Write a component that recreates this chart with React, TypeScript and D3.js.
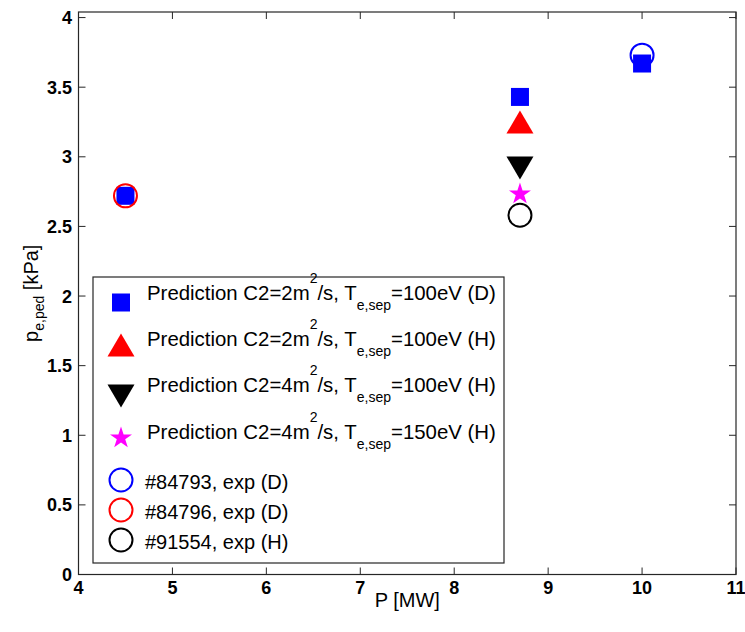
import React from 'react'
import * as d3 from 'd3'

// power [MW] and pedestal pressure [kPa]
const predD_C2_2_T100_P = [4.5, 8.7, 10]
const predD_C2_2_T100_p = [2.72, 3.43, 3.67]
const predH_C2_2_T100_P = [8.7]
const predH_C2_2_T100_p = [3.25]
const predH_C2_4_T100_P = [8.7]
const predH_C2_4_T100_p = [2.92]
const predH_C2_4_T150_P = [8.7]
const predH_C2_4_T150_p = [2.74]
const exp84793_P = [10]
const exp84793_p = [3.73]
const exp84796_P = [4.5]
const exp84796_p = [2.72]
const exp91554_P = [8.7]
const exp91554_p = [2.58]

const xTicks = [4, 5, 6, 7, 8, 9, 10, 11]
const yTicks = [0, 0.5, 1, 1.5, 2, 2.5, 3, 3.5, 4]

const font = 'Liberation Sans, Arial, Helvetica, sans-serif'

const width = 745
const height = 632
const left = 78.5
const right = 736
const top = 12
const bottom = 574.5

const x = d3.scaleLinear().domain([4, 11]).range([left, right])
const y = d3.scaleLinear().domain([0, 4.04]).range([bottom, top])

const star = d3.symbol().type(d3.symbolStar).size(150)

function Square({ cx, cy, s = 18 }: any) {
  return <rect x={cx - s / 2} y={cy - s / 2} width={s} height={s} fill="#0000ff" />
}
function TriUp({ cx, cy, color }: any) {
  const w = 13.5, h = 11.5
  return <path d={`M${cx},${cy - h}L${cx + w},${cy + h}L${cx - w},${cy + h}Z`} fill={color} />
}
function TriDown({ cx, cy }: any) {
  const w = 13.5, h = 11.5
  return <path d={`M${cx - w},${cy - h}L${cx + w},${cy - h}L${cx},${cy + h}Z`} fill="#000" />
}
function Star({ cx, cy }: any) {
  return <path d={star() as string} transform={`translate(${cx},${cy + 1})`} fill="#ff00ff" />
}
function Ring({ cx, cy, color }: any) {
  return <circle cx={cx} cy={cy} r={11.5} fill="none" stroke={color} strokeWidth={2} />
}

function Pred({ c2, t, iso, yb }: any) {
  return (
    <text x={147} y={yb} fontSize={20.4} fontFamily={font} fill="#000">
      {`Prediction C2=${c2}m`}
      <tspan dy={-17} fontSize={14}>2</tspan>
      <tspan dy={17}>/s, T</tspan>
      <tspan dy={10} fontSize={14}>e,sep</tspan>
      <tspan dy={-10}>{`=${t}eV (${iso})`}</tspan>
    </text>
  )
}

export default function App() {
  return (
    <svg width={width} height={height} style={{ display: 'block', position: 'absolute', left: 0, top: 0 }}>
      <rect width={width} height={height} fill="#fff" />

      {/* axes box */}
      <rect x={left} y={top} width={right - left} height={bottom - top} fill="none" stroke="#262626" strokeWidth={1.2} />
      {xTicks.map(t => (
        <g key={'x' + t}>
          <line x1={x(t)} x2={x(t)} y1={bottom} y2={bottom - 7} stroke="#262626" />
          <line x1={x(t)} x2={x(t)} y1={top} y2={top + 7} stroke="#262626" />
          <text x={x(t)} y={594} textAnchor="middle" fontSize={18} fontWeight="bold" fontFamily={font} fill="#000">{t}</text>
        </g>
      ))}
      {yTicks.map(t => (
        <g key={'y' + t}>
          <line x1={left} x2={left + 7} y1={y(t)} y2={y(t)} stroke="#262626" />
          <line x1={right} x2={right - 7} y1={y(t)} y2={y(t)} stroke="#262626" />
          <text x={72} y={y(t) + 6.5} textAnchor="end" fontSize={18} fontWeight="bold" fontFamily={font} fill="#000">{t}</text>
        </g>
      ))}

      <text x={(left + right) / 2} y={607} textAnchor="middle" fontSize={20} fontFamily={font} fill="#000">P [MW]</text>
      <text transform={`translate(38,${(top + bottom) / 2}) rotate(-90)`} textAnchor="middle" fontSize={20} fontFamily={font} fill="#000">
        p<tspan dy={6} fontSize={14}>e,ped</tspan><tspan dy={-6}> [kPa]</tspan>
      </text>

      {/* data */}
      {exp84793_P.map((v, i) => <Ring key={'b' + i} cx={x(v)} cy={y(exp84793_p[i])} color="#0000ff" />)}
      {predD_C2_2_T100_P.map((v, i) => <Square key={'s' + i} cx={x(v)} cy={y(predD_C2_2_T100_p[i])} />)}
      {predH_C2_2_T100_P.map((v, i) => <TriUp key={'u' + i} cx={x(v)} cy={y(predH_C2_2_T100_p[i])} color="#ff0000" />)}
      {predH_C2_4_T100_P.map((v, i) => <TriDown key={'d' + i} cx={x(v)} cy={y(predH_C2_4_T100_p[i])} />)}
      {predH_C2_4_T150_P.map((v, i) => <Star key={'p' + i} cx={x(v)} cy={y(predH_C2_4_T150_p[i])} />)}
      {exp84796_P.map((v, i) => <Ring key={'r' + i} cx={x(v)} cy={y(exp84796_p[i])} color="#ff0000" />)}
      {exp91554_P.map((v, i) => <Ring key={'k' + i} cx={x(v)} cy={y(exp91554_p[i])} color="#000" />)}

      {/* legend */}
      <rect x={93} y={277} width={411} height={286} fill="#fff" stroke="#262626" strokeWidth={1.2} />
      <Square cx={121} cy={302.5} />
      <Pred c2={2} t={100} iso="D" yb={299.5} />
      <TriUp cx={121} cy={345} color="#ff0000" />
      <Pred c2={2} t={100} iso="H" yb={345.5} />
      <TriDown cx={121} cy={396} />
      <Pred c2={4} t={100} iso="H" yb={392} />
      <Star cx={121} cy={437} />
      <Pred c2={4} t={150} iso="H" yb={438.5} />
      <Ring cx={121} cy={480} color="#0000ff" />
      <text x={145} y={489} fontSize={20} fontFamily={font} fill="#000">#84793, exp (D)</text>
      <Ring cx={121} cy={510} color="#ff0000" />
      <text x={145} y={519} fontSize={20} fontFamily={font} fill="#000">#84796, exp (D)</text>
      <Ring cx={121} cy={540} color="#000" />
      <text x={145} y={549} fontSize={20} fontFamily={font} fill="#000">#91554, exp (H)</text>
    </svg>
  )
}
